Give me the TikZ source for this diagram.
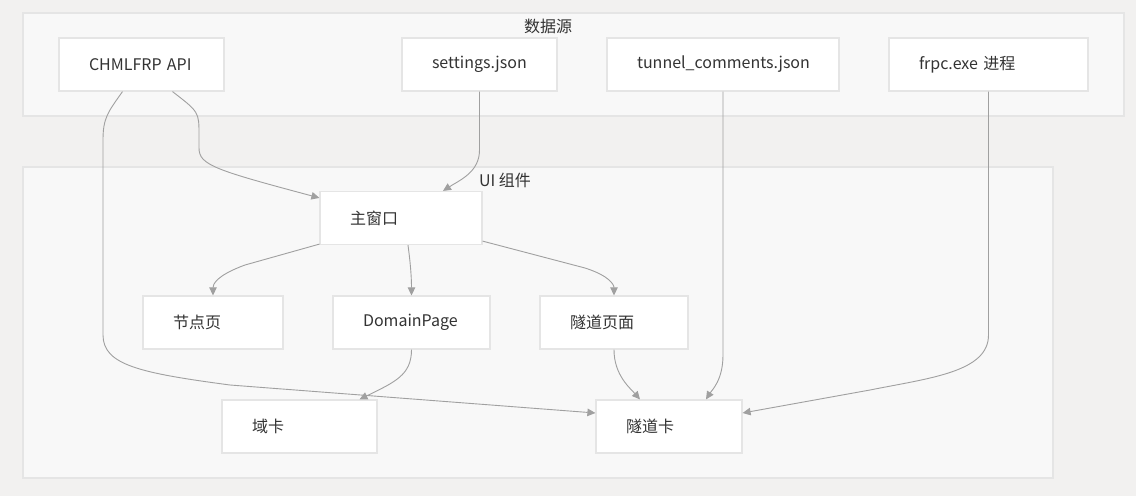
\documentclass[tikz,border=0pt]{standalone}
\usepackage{fontspec}
\setmainfont{Noto Sans CJK SC}
\usetikzlibrary{arrows.meta}
\definecolor{bgc}{RGB}{242,241,240}
\definecolor{clc}{RGB}{248,248,248}
\definecolor{bdc}{RGB}{229,229,229}
\definecolor{edc}{RGB}{160,160,160}
\definecolor{txc}{RGB}{51,51,51}
\tikzset{
  cluster/.style={draw=bdc, fill=clc, line width=1.2pt},
  box/.style={draw=bdc, fill=white, line width=1.2pt, minimum height=53pt,
    inner xsep=30pt, inner ysep=0pt, align=left, text=txc,
    font=\fontsize{16}{19}\selectfont},
  ctitle/.style={text=txc, font=\fontsize{16}{19}\selectfont, inner sep=0pt},
  edge/.style={draw=edc, line width=0.9pt, -{Triangle[length=8pt,width=7.5pt]}}
}
\begin{document}
\begin{tikzpicture}[x=1pt,y=-1pt]
\useasboundingbox[fill=bgc] (0,0) rectangle (1136,496);
% clusters
\draw[cluster] (23,13) rectangle (1124,116);
\node[ctitle] (t1) at (548,26) {数据源};
\draw[cluster] (23,167) rectangle (1053,478);
\node[ctitle] (t2) at (505,180) {UI 组件};
% nodes
\node[box, text width=105pt] (api) at (141.5,64.5) {CHMLFRP API};
\node[box, text width=95pt] (set) at (479.5,64.5) {settings.json};
\node[box, text width=172pt] (tun) at (723,64.5) {tunnel\_comments.json};
\node[box, text width=139pt] (frpc) at (988.5,64.5) {frpc.exe 进程};
\node[box, text width=102pt] (main) at (401,218) {主窗口};
\node[box, text width=80pt] (np) at (213,322.5) {节点页};
\node[box, text width=97pt] (dp) at (411.5,322.5) {DomainPage};
\node[box, text width=88pt] (tp) at (614,322.5) {隧道页面};
\node[box, text width=95pt] (dc) at (299.5,426.5) {域卡};
\node[box, text width=86pt] (tc) at (669,426.5) {隧道卡};
% edges
\draw[edge] ([xshift=31pt]api.south) .. controls (199,112) .. (199,135) -- (199,148)
  .. controls (199,165) and (215,170) .. ([yshift=-7pt]main.north west);
\draw[edge] ([xshift=-19pt]api.south) .. controls (108,112) and (103,118) .. (103,140)
  -- (103,335) .. controls (103,365) and (140,373) .. (230,385)
  -- ([yshift=13.5pt]tc.west);
\draw[edge] (set.south) -- (479.5,150) .. controls (479.5,172) and (460,180) .. ([xshift=42pt]main.north);
\draw[edge] (tun.south) -- (723,355) .. controls (723,380) and (712,390) .. ([xshift=37pt]tc.north);
\draw[edge] (frpc.south) -- (988.5,335) .. controls (988.5,372) and (930,378) .. (870,390)
  -- ([yshift=13.5pt]tc.east);
\draw[edge] ([yshift=1pt]main.south west) -- (245,265) .. controls (215,276) and (213,285) .. (np.north);
\draw[edge] ([xshift=7pt]main.south) .. controls (410,260) and (411.5,275) .. (dp.north);
\draw[edge] ([yshift=4pt]main.south east) -- (585,268) .. controls (610,276) and (614,285) .. (tp.north);
\draw[edge] (dp.south) .. controls (411.5,375) and (395,382) .. ([xshift=60pt]dc.north);
\draw[edge] (tp.south) .. controls (614,375) and (630,388) .. ([xshift=-29pt]tc.north);
\end{tikzpicture}
\end{document}
